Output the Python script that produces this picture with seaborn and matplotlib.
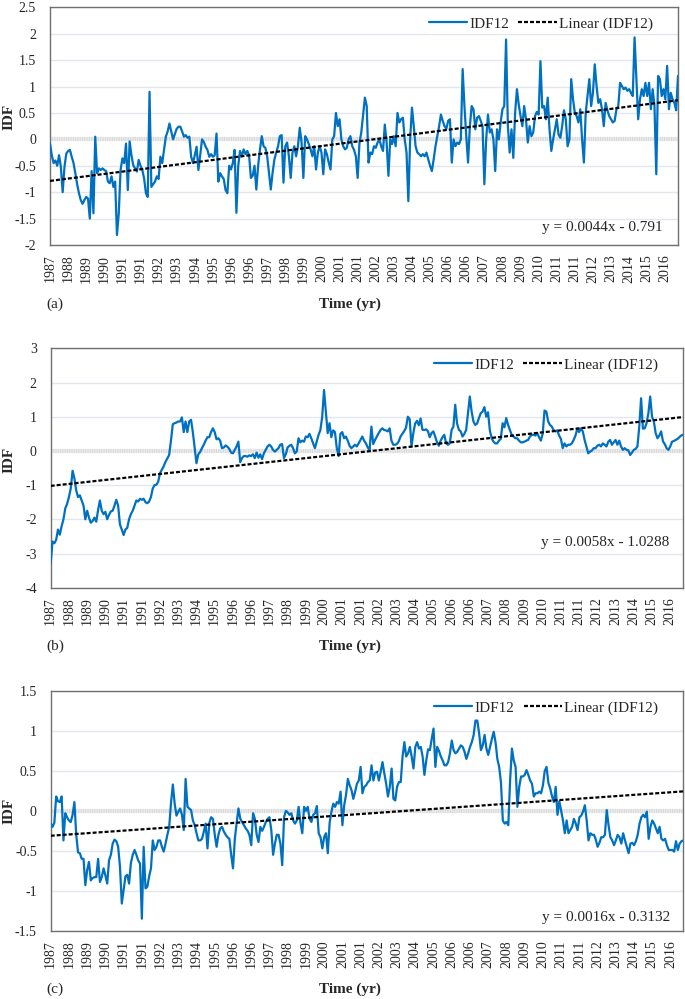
import numpy as np
import pandas as pd
import matplotlib
matplotlib.use("Agg")
import matplotlib.pyplot as plt
import seaborn as sns

# monthly IDF12 values (one row = 12 months)
idf_a = [
    -0.08, -0.30, -0.45, -0.40, -0.50, -0.30, -0.52, -1.00, -0.52, -0.27, -0.22, -0.20,
    -0.33, -0.45, -0.64, -0.85, -1.02, -1.15, -1.22, -1.15, -1.09, -1.12, -1.50, -0.60,
    -1.40, 0.05, -0.64, -0.55, -0.58, -0.55, -0.58, -0.60, -0.80, -0.83, -0.70, -0.90,
    -0.80, -1.81, -1.40, -0.58, -0.36, -0.45, -0.08, -0.96, -0.04, -0.30, -0.49, -0.55,
    -0.61, -0.39, -0.50, -0.58, -0.74, -1.02, -1.09, 0.90, -0.90, -0.85, -0.80, -0.70,
    -0.75, -0.33, -0.45, -0.20, 0.05, 0.15, 0.30, 0.15, 0.00, 0.10, 0.20, 0.24,
    0.24, 0.15, 0.05, 0.08, 0.03, 0.05, -0.33, -0.45, -0.30, -0.14, -0.58, -0.30,
    0.00, -0.05, -0.14, -0.20, -0.33, -0.28, -0.33, -0.30, 0.11, -0.80, -0.64, -0.70,
    -0.75, -0.96, -1.02, -0.50, -0.57, -0.45, -0.20, -1.39, -0.50, -0.22, -0.32, -0.19,
    -0.28, -0.22, -0.30, -0.73, -0.69, -0.50, -0.95, -0.50, -0.20, 0.06, -0.13, -0.16,
    -0.32, -0.63, -0.95, -0.63, -0.38, -0.25, -0.13, 0.06, 0.08, -0.82, -0.13, -0.06,
    -0.32, -0.73, -0.25, -0.13, -0.32, -0.13, 0.22, -0.06, -0.73, 0.06, 0.00, -0.09,
    -0.19, -0.32, -0.13, -0.57, -0.25, -0.13, -0.25, -0.66, -0.19, -0.28, -0.44, -0.57,
    0.00, 0.06, 0.50, 0.25, 0.38, 0.00, -0.13, -0.19, -0.16, 0.00, 0.06, -0.13,
    -0.20, -0.32, -0.73, -0.06, 0.13, 0.47, 0.79, 0.63, -0.44, -0.25, -0.28, -0.13,
    -0.16, -0.06, 0.00, -0.13, -0.22, 0.28, -0.06, -0.69, 0.00, -0.09, 0.06, -0.13,
    0.50, 0.32, 0.38, 0.41, 0.00, -0.25, -1.17, 0.00, 0.60, 0.25, -0.13, -0.25,
    -0.28, -0.32, -0.28, -0.32, -0.25, -0.38, -0.50, -0.60, -0.38, -0.13, 0.06, 0.25,
    0.47, 0.35, 0.25, 0.20, 0.35, 0.38, -0.44, 0.00, -0.13, -0.06, -0.09, 0.00,
    1.33, 0.63, 0.06, -0.44, 0.25, 0.63, 0.57, 0.19, 0.41, 0.44, 0.35, 0.25,
    -0.85, 0.00, 0.47, 0.13, 0.19, 0.00, -0.60, 0.19, 0.00, 0.32, 0.57, 0.63,
    1.89, 0.25, -0.25, 0.19, -0.35, 0.50, 0.95, 0.66, 0.44, 0.25, 0.63, 0.38,
    -0.06, 0.25, 0.06, 0.13, 0.44, 0.52, 0.47, 1.48, 0.60, 0.63, 0.38, 0.79,
    0.19, -0.22, 0.00, 0.19, 0.38, 0.09, 0.03, 0.25, 0.55, 0.38, -0.13, 0.00,
    1.14, 0.76, 0.50, 0.44, 0.32, 0.57, 0.00, -0.44, 0.50, 0.82, 1.14, 0.63,
    0.88, 1.42, 1.01, 0.69, 0.76, 0.57, 0.25, 0.69, 0.55, 0.44, 0.38, 0.32,
    0.35, 0.57, 0.63, 1.07, 1.01, 0.95, 0.98, 0.92, 0.95, 0.88, 0.82, 1.93,
    1.14, 0.38, 0.76, 0.95, 0.82, 1.07, 0.82, 1.07, 0.57, 0.95, 0.63, -0.66,
    1.20, 1.14, 0.82, 0.95, 0.76, 1.39, 0.57, 0.88, 0.76, 0.69, 0.55, 1.20,
]

idf_b = [
    -3.28, -2.65, -2.70, -2.60, -2.30, -2.45, -2.20, -2.00, -1.68, -1.55, -1.35, -1.10,
    -0.58, -0.80, -1.15, -1.35, -1.30, -1.45, -1.60, -2.00, -1.75, -1.95, -2.10, -2.05,
    -1.95, -2.07, -1.73, -1.45, -1.75, -1.85, -1.78, -2.00, -1.87, -1.77, -1.75, -1.60,
    -1.43, -1.60, -2.15, -2.30, -2.46, -2.30, -2.25, -2.00, -1.85, -1.75, -1.60, -1.45,
    -1.48, -1.40, -1.43, -1.40, -1.50, -1.53, -1.48, -1.35, -1.10, -1.00, -0.99, -0.90,
    -0.65, -0.55, -0.45, -0.32, -0.22, -0.12, 0.30, 0.78, 0.81, 0.83, 0.86, 0.86,
    0.98, 0.55, 0.86, 0.55, 0.86, 0.91, 0.55, 0.10, -0.36, -0.10, -0.03, 0.08,
    0.18, 0.30, 0.40, 0.40, 0.55, 0.66, 0.55, 0.34, 0.37, 0.30, 0.08, 0.10,
    0.16, 0.12, 0.06, -0.05, -0.07, 0.03, 0.13, 0.27, -0.33, -0.21, -0.15, -0.15,
    -0.17, -0.13, -0.15, -0.10, -0.21, -0.05, -0.20, -0.10, -0.24, -0.07, 0.03, 0.13,
    0.18, 0.13, 0.03, -0.02, 0.03, 0.08, 0.18, 0.20, -0.21, -0.10, 0.10, 0.15,
    0.18, 0.08, -0.07, -0.02, 0.37, 0.25, 0.30, 0.27, 0.42, 0.40, 0.50, 0.37,
    0.22, 0.08, 0.27, 0.47, 0.61, 1.00, 1.78, 1.15, 0.52, 0.81, 0.40, 0.60,
    0.55, 0.08, -0.15, 0.50, 0.55, 0.37, 0.42, 0.30, 0.15, 0.08, 0.13, 0.18,
    0.13, 0.22, 0.32, 0.42, 0.30, 0.22, 0.10, 0.03, 0.71, 0.20, 0.32, 0.42,
    0.52, 0.61, 0.66, 0.61, 0.60, 0.57, 0.66, 0.30, 0.18, 0.18, 0.20, 0.28,
    0.42, 0.50, 0.58, 0.68, 1.00, 0.93, 0.13, 0.52, 0.80, 0.88, 0.75, 0.95,
    0.62, 0.61, 0.63, 0.58, 0.40, 0.52, 0.57, 0.42, 0.25, 0.15, 0.30, 0.40,
    0.47, 0.22, 0.18, 0.22, 0.61, 0.71, 1.35, 0.80, 0.62, 0.57, 0.42, 0.50,
    0.61, 1.10, 1.59, 1.15, 0.86, 0.76, 0.80, 0.96, 1.10, 1.15, 1.28, 1.00,
    1.13, 0.60, 0.37, 0.27, 0.22, 0.22, 0.30, 0.35, 0.81, 0.69, 0.96, 0.76,
    0.61, 0.47, 0.42, 0.37, 0.37, 0.30, 0.25, 0.25, 0.27, 0.30, 0.32, 0.42,
    0.47, 0.47, 0.45, 0.52, 0.40, 0.30, 0.50, 1.18, 1.15, 0.86, 0.76, 0.71,
    0.61, 0.57, 0.60, 0.45, 0.35, 0.08, 0.22, 0.13, 0.18, 0.18, 0.22, 0.32,
    0.45, 0.65, 0.55, 0.66, 0.57, 0.32, 0.13, -0.07, -0.02, 0.01, 0.08, 0.08,
    0.15, 0.18, 0.13, 0.22, 0.18, 0.13, 0.27, 0.32, 0.18, 0.25, 0.32, 0.18,
    0.30, 0.13, 0.03, 0.08, 0.03, 0.02, -0.12, -0.05, 0.03, 0.06, 0.13, 0.71,
    1.54, 0.65, 0.66, 0.81, 1.10, 1.59, 1.00, 0.86, 0.52, 0.37, 0.45, 0.57,
    0.28, 0.20, 0.08, 0.03, 0.13, 0.27, 0.29, 0.32, 0.35, 0.40, 0.45, 0.47,
]

idf_c = [
    -0.16, -0.20, -0.15, 0.18, 0.12, 0.11, 0.18, -0.37, -0.03, -0.08, -0.12, -0.14,
    -0.05, 0.11, -0.30, -0.52, -0.53, -0.60, -0.60, -0.93, -0.74, -0.64, -0.87, -0.84,
    -0.83, -0.83, -0.60, -0.89, -0.83, -0.72, -0.81, -0.91, -0.62, -0.55, -0.41, -0.36,
    -0.38, -0.45, -0.70, -1.16, -0.99, -0.82, -0.80, -0.91, -0.65, -0.55, -0.49, -0.55,
    -0.62, -0.66, -1.35, -0.45, -0.97, -0.95, -0.82, -0.72, -0.37, -0.49, -0.45, -0.37,
    -0.37, -0.45, -0.51, -0.41, -0.30, -0.20, 0.10, 0.33, 0.09, -0.06, -0.01, 0.03,
    -0.05, -0.24, 0.40, 0.05, 0.03, 0.01, -0.12, -0.18, -0.28, -0.37, -0.37, -0.35,
    -0.26, -0.16, -0.47, -0.15, -0.08, -0.10, -0.30, -0.45, -0.30, -0.22, -0.20, -0.26,
    -0.30, -0.33, -0.35, -0.55, -0.72, -0.35, -0.15, 0.03, -0.10, -0.14, -0.18, -0.22,
    -0.25, -0.30, -0.43, -0.03, -0.10, -0.30, -0.39, -0.20, -0.25, -0.20, -0.14, -0.10,
    -0.08, -0.24, -0.55, -0.41, -0.30, -0.30, -0.41, -0.68, -0.08, 0.00, -0.02, -0.05,
    -0.03, -0.12, -0.16, -0.12, 0.05, -0.15, -0.28, 0.05, 0.00, 0.05, -0.10, -0.14,
    -0.05, -0.03, 0.06, -0.28, -0.33, -0.47, -0.33, -0.28, -0.53, -0.15, -0.01, 0.09,
    0.05, 0.11, 0.09, 0.24, -0.18, 0.07, 0.20, 0.40, 0.32, 0.26, 0.15, 0.24,
    0.34, 0.38, 0.55, 0.22, 0.30, 0.32, 0.36, 0.38, 0.57, 0.38, 0.48, 0.49,
    0.38, 0.49, 0.61, 0.47, 0.34, 0.18, 0.30, 0.53, 0.15, 0.13, 0.30, 0.36,
    0.36, 0.68, 0.86, 0.68, 0.72, 0.80, 0.68, 0.53, 0.80, 0.86, 0.78, 0.80,
    0.68, 0.45, 0.63, 0.77, 0.76, 0.90, 1.03, 0.55, 0.80, 0.75, 0.68, 0.63,
    0.57, 0.57, 0.61, 0.72, 0.88, 0.76, 0.72, 0.74, 0.78, 0.82, 0.80, 0.74,
    0.65, 0.72, 0.80, 0.86, 0.95, 1.13, 1.13, 0.97, 0.76, 0.82, 0.95, 0.78,
    0.70, 0.80, 0.90, 0.99, 0.86, 0.65, 0.55, 0.35, -0.12, -0.16, -0.14, -0.18,
    0.38, 0.78, 0.63, 0.55, 0.05, 0.30, 0.43, 0.43, 0.45, 0.51, 0.45, 0.38,
    0.34, 0.18, 0.22, 0.22, 0.24, 0.22, 0.32, 0.50, 0.55, 0.35, 0.28, 0.18,
    0.11, 0.30, -0.05, 0.12, 0.00, -0.12, -0.28, -0.12, -0.28, -0.24, -0.20, -0.10,
    -0.16, -0.24, -0.08, -0.06, -0.01, 0.07, -0.12, -0.37, -0.28, -0.30, -0.30, -0.36,
    -0.45, -0.40, -0.33, -0.33, -0.30, 0.01, -0.18, -0.33, -0.37, -0.43, -0.37, -0.30,
    -0.33, -0.41, -0.28, -0.37, -0.45, -0.53, -0.41, -0.40, -0.43, -0.38, -0.30, -0.16,
    -0.08, -0.05, -0.08, -0.01, -0.35, -0.20, -0.12, -0.16, -0.22, -0.28, -0.20, -0.35,
    -0.37, -0.35, -0.43, -0.49, -0.49, -0.49, -0.51, -0.38, -0.49, -0.41, -0.38, -0.37,
]

# category labels shown every 10th month (as in the original)
year_labels = ["1987", "1988", "1989", "1990", "1991", "1991", "1992", "1993", "1994",
               "1995", "1996", "1996", "1997", "1998", "1999", "2000", "2001", "2001",
               "2002", "2003", "2004", "2005", "2006", "2006", "2007", "2008", "2009",
               "2010", "2011", "2011", "2012", "2013", "2014", "2015", "2016"]

# linear trendlines as printed on the chart
slopes = [0.0044, 0.0058, 0.0016]
intercepts = [-0.791, -1.0288, -0.3132]
equations = ["y = 0.0044x - 0.791", "y = 0.0058x - 1.0288", "y = 0.0016x - 0.3132"]
tags = ["(a)", "(b)", "(c)"]

# y axis range per panel
y_ranges = [(-2, 2.5, 0.5), (-4, 3, 1), (-1.5, 1.5, 0.5)]

# layout in pixels (left, top, right, bottom) of each plot area
W, H = 685, 999
boxes = [(50, 7.3, 678, 245), (50.7, 348.3, 683, 587.7), (50.7, 691, 683.3, 930.7)]
eq_pos = [(0.976, 0.073), (0.979, 0.187), (0.979, 0.057)]
idf_y = [117, 460, 811]

sns.set_style("white")
plt.rcParams["font.family"] = ["Liberation Serif", "DejaVu Serif"]
plt.rcParams["axes.unicode_minus"] = False

fig = plt.figure(figsize=(6.85, 9.99), dpi=100)

for k, vals in enumerate([idf_a, idf_b, idf_c]):
    l, t, r, b = boxes[k]
    ax = fig.add_axes([l / W, 1 - b / H, (r - l) / W, (b - t) / H])

    df = pd.DataFrame({"month": np.arange(len(vals)), "IDF12": vals})
    df["trend"] = slopes[k] * (df["month"] + 1) + intercepts[k]

    lo, hi, step = y_ranges[k]
    yt = np.arange(lo, hi + step / 2, step)
    ax.set_yticks(yt)
    ax.set_yticklabels([f"{v:g}" for v in yt])
    ax.set_ylim(lo, hi)
    ax.grid(axis="y", color="#e3e6ed", lw=1.0)
    ax.grid(axis="x", visible=False)
    ax.set_axisbelow(True)

    # pale zero axis line of the original
    ax.axhline(0, color="#ebebeb", lw=3, zorder=1)
    ax.axhline(0, color="#d6d6d6", lw=3, ls=(0, (0.2, 0.35)), zorder=1)

    sns.lineplot(data=df, x="month", y="IDF12", ax=ax, color="#0070c0",
                 lw=1.6, label="IDF12", zorder=3)
    sns.lineplot(data=df, x="month", y="trend", ax=ax, color="black",
                 lw=1.6, ls=(0, (1.8, 0.9)), label="Linear (IDF12)", zorder=4)

    ax.set_xlim(0, len(vals) - 1)
    ax.set_xticks(np.arange(0, 10 * len(year_labels), 10))
    ax.set_xticklabels(year_labels, rotation=90)
    ax.tick_params(axis="x", length=0, pad=7, labelsize=10)
    ax.tick_params(axis="y", length=0, pad=10, labelsize=10)
    ax.set_xlabel("")
    ax.set_ylabel("")

    for s in ax.spines.values():
        s.set_visible(True)
        s.set_color("#707070")
        s.set_linewidth(1.0)

    ax.legend(loc="center right", bbox_to_anchor=(0.965, 0.93), ncol=2,
              frameon=True, facecolor="white", edgecolor="none", framealpha=1,
              fontsize=11, handlelength=2.5, handletextpad=0.15,
              columnspacing=0.6, borderpad=0.2, borderaxespad=0)

    ax.text(eq_pos[k][0], eq_pos[k][1], equations[k], transform=ax.transAxes,
            ha="right", va="center", fontsize=11)

    fig.text(9 / W, 1 - idf_y[k] / H, "IDF", rotation=90, ha="center",
             va="center", fontsize=11, fontweight="bold")
    label_y = 1 - (b + 59) / H
    fig.text(46 / W, label_y, tags[k], ha="left", va="center", fontsize=11)
    fig.text(350 / W, label_y, "Time (yr)", ha="center", va="center",
             fontsize=11, fontweight="bold")

plt.savefig("out.png", dpi=100)
